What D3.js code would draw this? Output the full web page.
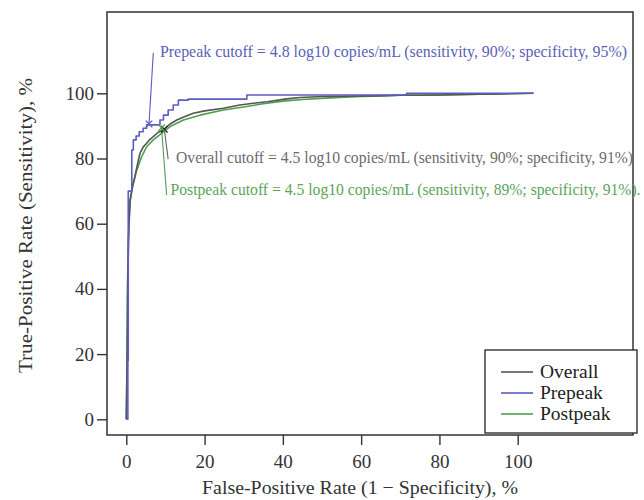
<!DOCTYPE html>
<html><head><meta charset="utf-8">
<script src="https://cdn.jsdelivr.net/npm/d3@7/dist/d3.min.js"></script>
<style>body{margin:0;background:#fff}svg{display:block}</style>
</head><body><svg id="c" width="644" height="500" font-family="Liberation Serif, Times New Roman, serif"></svg>
<script>
// ---- data ----
const xTicks = [0, 20, 40, 60, 80, 100];
const yTicks = [0, 20, 40, 60, 80, 100];
const seriesNames = ["Overall", "Prepeak", "Postpeak"];
const seriesColors = ["#555555", "#5c5cc4", "#4f9f4f"];
const overallPoints = [[0,0],[0.2,20],[0.4,45],[0.7,60],[1,67],[1.5,71],[2.2,74.5],[3,79],[3.5,81.6],[4.3,83.5],[5.2,84.7],[6,85.8],[6.9,86.7],[8,87.9],[9.7,89],[11.2,90.6],[12.9,91.8],[15,92.9],[17.1,93.9],[20,94.6],[24.8,95.4],[29,96.4],[33,97],[36,97.4],[41,98.3],[44.4,98.7],[50,99],[55,99.1],[62,99.2],[70,99.4],[80,99.5],[90,99.7],[95,99.8],[104,100]];
const prepeakPoints = [[0,0],[0.4,18],[0.5,70],[1.4,82.6],[1.8,85.7],[2.5,86.9],[3.3,88.2],[4.3,89.3],[5.2,90.3],[8.6,91.8],[9.5,93.3],[10.7,94.9],[12,96.4],[13.3,97.9],[15.8,98.2],[30.8,99.5],[71.6,100],[104,100]];
const postpeakPoints = [[0,0],[0.2,18],[0.3,40],[0.5,55],[0.9,67],[1.8,72.4],[2.7,76.5],[3.9,80.5],[5.2,83.6],[6.9,85.7],[9,87.7],[11.2,89.8],[14.6,91.8],[18.8,93.3],[24.8,94.9],[30,95.8],[35,96.8],[40,97.6],[45,98.1],[52,98.6],[60,99],[66,99.2],[70,99.4],[80,99.5],[90,99.7],[104,100]];
const cutoffPoints = [[5.8,90.6],[9.7,89.0],[9.0,89.4]]; // prepeak, overall, postpeak
const annotTexts = [
  "Prepeak cutoff = 4.8 log10 copies/mL (sensitivity, 90%; specificity, 95%)",
  "Overall cutoff = 4.5 log10 copies/mL (sensitivity, 90%; specificity, 91%)",
  "Postpeak cutoff = 4.5 log10 copies/mL (sensitivity, 89%; specificity, 91%)."
];
const annotColors = ["#5a5fb8", "#6b6b6b", "#5aa55a"];
const leaderColors = ["#5c5cc4", "#666666", "#4f9f4f"];
const annotAnchors = [[8.6,111.1],[12.7,78.7],[11.3,68.8]]; // text start (data units)
const leaderEnds = [[6.9,112.4],[10.7,79.8],[10.3,68.8]];
const annotWidths = [467, 457, 470];
const markerColors = ["#5c5cc4", "#222222", "#4f9f4f"];
const xTitle = "False-Positive Rate (1 − Specificity), %";
const yTitle = "True-Positive Rate (Sensitivity), %";

// ---- layout ----
const FONT = "Liberation Serif, Times New Roman, serif";
const svg = d3.select("#c");
const frame = {l:107, t:12, r:633, b:435};
const x = d3.scaleLinear().domain([0,100]).range([126.3,517.7]);
const y = d3.scaleLinear().domain([0,100]).range([419.3,93.3]);

svg.append("rect").attr("x",frame.l).attr("y",frame.t)
  .attr("width",frame.r-frame.l).attr("height",frame.b-frame.t)
  .attr("fill","none").attr("stroke","#333").attr("stroke-width",1.5);

const xa = svg.append("g").attr("transform",`translate(0,${frame.b})`)
  .call(d3.axisBottom(x).tickValues(xTicks).tickSize(10).tickPadding(10).tickFormat(d3.format("d")));
const ya = svg.append("g").attr("transform",`translate(${frame.l},0)`)
  .call(d3.axisLeft(y).tickValues(yTicks).tickSize(10).tickPadding(3).tickFormat(d3.format("d")));
[xa,ya].forEach(a=>{
  a.attr("font-family",FONT).attr("font-size",19);
  a.select(".domain").remove();
  a.selectAll("line").attr("stroke","#333").attr("stroke-width",1.4);
  a.selectAll("text").attr("fill","#333");
});

svg.append("text").attr("x",(202+518)/2).attr("y",494).attr("text-anchor","middle")
  .attr("font-family",FONT).attr("font-size",19).attr("fill","#333")
  .attr("textLength",316).attr("lengthAdjust","spacingAndGlyphs").text(xTitle);
svg.append("text").attr("transform",`translate(32,${(78+373)/2}) rotate(-90)`).attr("text-anchor","middle")
  .attr("font-family",FONT).attr("font-size",19).attr("fill","#333")
  .attr("textLength",295).attr("lengthAdjust","spacingAndGlyphs").text(yTitle);

// ---- curves ----
const lineLin = d3.line().x(d=>x(d[0])).y(d=>y(d[1]));
const lineStep = d3.line().x(d=>x(d[0])).y(d=>y(d[1])).curve(d3.curveStepAfter);
const seriesData = [overallPoints, prepeakPoints, postpeakPoints];
[[2,lineLin],[0,lineLin],[1,lineStep]].forEach(([i,gen])=>{
  svg.append("path").attr("d",gen(seriesData[i])).attr("fill","none")
    .attr("stroke",seriesColors[i]).attr("stroke-width",1.6).attr("stroke-linejoin","round");
});

// ---- annotations ----
annotTexts.forEach((t,i)=>{
  const p = cutoffPoints[i];
  svg.append("line").attr("x1",x(p[0])).attr("y1",y(p[1]))
    .attr("x2",x(leaderEnds[i][0])).attr("y2",y(leaderEnds[i][1]))
    .attr("stroke",leaderColors[i]).attr("stroke-width",1.1);
  svg.append("text").attr("x",x(annotAnchors[i][0])).attr("y",y(annotAnchors[i][1]))
    .attr("font-family",FONT).attr("font-size",16.5).attr("fill",annotColors[i])
    .attr("textLength",annotWidths[i]).attr("lengthAdjust","spacingAndGlyphs").text(t);
});
cutoffPoints.forEach((p,i)=>{
  svg.append("path").attr("d",d3.symbol(d3.symbolTimes,30)())
    .attr("transform",`translate(${x(p[0])},${y(p[1])})`)
    .attr("fill","none").attr("stroke",markerColors[i]).attr("stroke-width",1.3);
});

// ---- legend ----
const lg = svg.append("g");
lg.append("rect").attr("x",485).attr("y",350).attr("width",152).attr("height",83)
  .attr("fill","#fff").attr("stroke","#222").attr("stroke-width",1.3);
seriesNames.forEach((n,i)=>{
  const yy = 372 + i*21;
  lg.append("line").attr("x1",501).attr("x2",533).attr("y1",yy).attr("y2",yy)
    .attr("stroke",seriesColors[i]).attr("stroke-width",1.6);
  lg.append("text").attr("x",540).attr("y",yy+5.5).attr("font-family",FONT)
    .attr("font-size",19.5).attr("fill","#222").text(n);
});
</script></body></html>
